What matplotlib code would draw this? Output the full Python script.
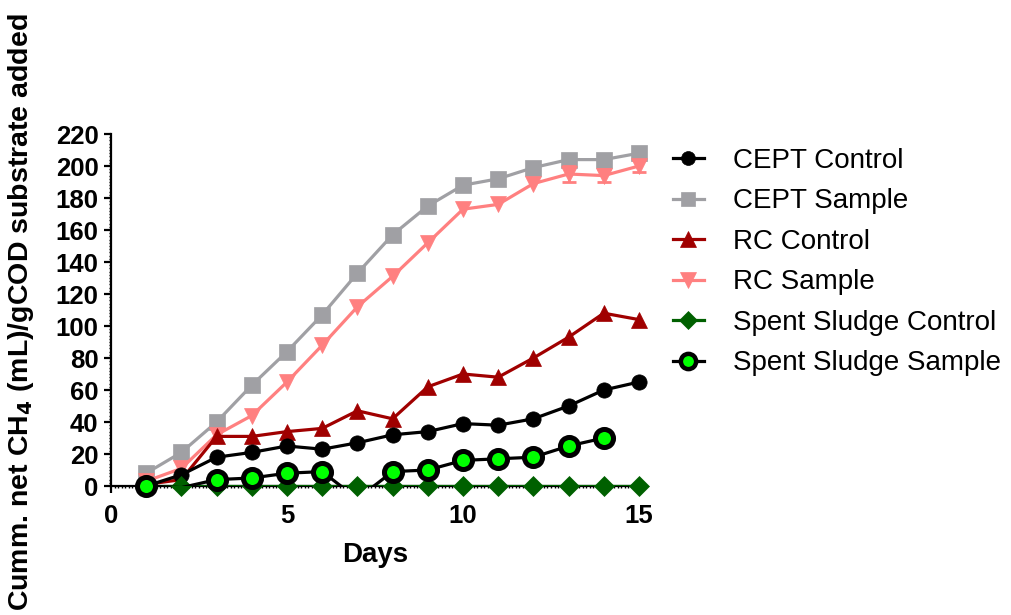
import numpy as np
import matplotlib
matplotlib.use("Agg")
import matplotlib.pyplot as plt
from matplotlib.ticker import MultipleLocator
from matplotlib.lines import Line2D

plt.rcParams['font.family'] = ['Liberation Sans', 'DejaVu Sans']

days = list(range(1, 16))
cept_control = [0, 7, 18, 21, 25, 23, 27, 32, 34, 39, 38, 42, 50, 60, 65]
cept_sample = [8, 21, 40, 63, 84, 107, 133, 157, 175, 188, 192, 199, 204, 204, 208]
rc_control = [1, 4, 31, 31, 34, 36, 47, 42, 62, 70, 68, 80, 93, 108, 104]
rc_sample = [3, 11, 32, 44, 65, 88, 112, 131, 152, 173, 176, 189, 195, 194, 200]
rc_sample_err = [0, 0, 0, 0, 0, 0, 0, 0, 0, 0, 0, 0, 5, 4, 4]
ss_control = [0] * 15
ss_days = list(range(1, 15))
ss_sample = [0, -1, 4, 5, 8, 9, -8, 9, 10, 16, 17, 18, 25, 30]

labels = ["CEPT Control", "CEPT Sample", "RC Control", "RC Sample",
          "Spent Sludge Control", "Spent Sludge Sample"]

fig = plt.figure(figsize=(10.11, 6.15), dpi=100)
ax = fig.add_axes([111/1011, 1-486/615, 528/1011, 352/615])

lw = 2.3
ms = 11

def series(x, y, color, marker, mfc, mec, msz, mew, z, yerr=None):
    x = np.asarray(x, float); y = np.asarray(y, float)
    ax.plot(x, y, color=color, lw=lw, zorder=z, clip_on=True)
    vis = y >= 0
    if yerr is not None:
        e = np.asarray(yerr, float)
        m = e > 0
        ax.errorbar(x[m], y[m], yerr=e[m], fmt='none', ecolor=color, elinewidth=2,
                    capsize=5, capthick=2, zorder=z, clip_on=False)
    ax.plot(x[vis], y[vis], ls='none', marker=marker, ms=msz, mfc=mfc, mec=mec,
            mew=mew, zorder=z + 0.5, clip_on=False)

series(days, cept_sample, '#A0A0A4', 's', '#A0A0A4', '#A0A0A4', ms, 0.5, 2)
series(days, rc_sample, '#FF8080', 'v', '#FF8080', '#FF8080', ms + 1, 0.5, 3, rc_sample_err)
series(days, rc_control, '#A00000', '^', '#A00000', '#A00000', ms + 1, 0.5, 4)
series(days, cept_control, '#000000', 'o', '#000000', '#000000', ms, 0.5, 5)
series(days, ss_control, '#006000', 'D', '#006000', '#006000', ms - 1, 0.5, 6)
series(ss_days, ss_sample, '#000000', 'o', '#00FF00', '#000000', ms + 2, 3.6, 7)

specs = [
    ('#000000', 'o', '#000000', '#000000', ms - 1, 0.5),
    ('#A0A0A4', 's', '#A0A0A4', '#A0A0A4', ms - 1, 0.5),
    ('#A00000', '^', '#A00000', '#A00000', ms, 0.5),
    ('#FF8080', 'v', '#FF8080', '#FF8080', ms, 0.5),
    ('#006000', 'D', '#006000', '#006000', ms - 2, 0.5),
    ('#000000', 'o', '#00FF00', '#000000', ms, 3.2),
]
handles = []
for (c, mk, mfc, mec, msz, mew), lab in zip(specs, labels):
    handles.append(Line2D([], [], color=c, lw=lw, marker=mk, ms=msz, mfc=mfc,
                          mec=mec, mew=mew, label=lab))
fig.legend(handles=handles, loc='upper left', bbox_to_anchor=(673/1011, 1-148/615),
           frameon=False, fontsize=20, handlelength=1.1, handletextpad=1.05,
           labelspacing=0.52, borderpad=0, borderaxespad=0)

ax.set_xlim(0, 15)
ax.set_ylim(0, 220)
ax.spines['top'].set_visible(False)
ax.spines['right'].set_visible(False)
for s in ('left', 'bottom'):
    ax.spines[s].set_linewidth(1.6)
ax.xaxis.set_major_locator(MultipleLocator(5))
ax.xaxis.set_minor_locator(MultipleLocator(0.1))
ax.yaxis.set_major_locator(MultipleLocator(20))
ax.yaxis.set_minor_locator(MultipleLocator(2))
ax.tick_params(which='major', direction='out', length=5, width=1.6,
               labelsize=18.5, pad=4)
ax.tick_params(which='minor', direction='out', length=1.5, width=1)
ax.tick_params(axis='x', which='major', pad=8)
for t in ax.get_xticklabels() + ax.get_yticklabels():
    t.set_fontweight('bold')

ax.set_xlabel('Days', fontsize=20, fontweight='bold', labelpad=10)
ax.set_ylabel('Cumm. net CH$_\\mathbf{4}$ (mL)/gCOD substrate added', fontsize=20.5,
              fontweight='bold')
ax.yaxis.set_label_coords((36 - 111) / 528, 0.495)

fig.savefig('out.png', dpi=100)
